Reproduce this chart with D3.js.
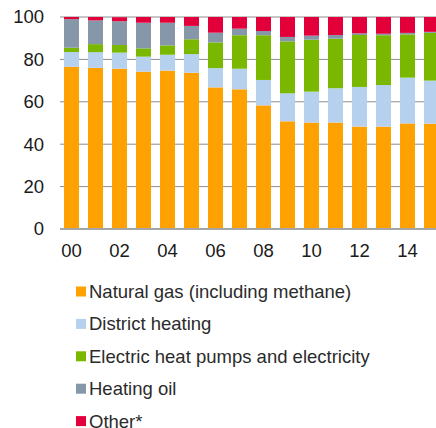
<!DOCTYPE html>
<html>
<head>
<meta charset="utf-8">
<script src="https://cdn.jsdelivr.net/npm/d3@7"></script>
<style>
  body { margin: 0; background: #fff; }
  svg { display: block; font-family: "Liberation Sans", Arial, sans-serif; }
</style>
</head>
<body>
<svg id="chart" width="436" height="428"></svg>
<script>
// Share of heating sources, years 2000-2015
const years = ["00","01","02","03","04","05","06","07","08","09","10","11","12","13","14","15"];
const gas      = [76.5, 76.0, 75.6, 74.2, 74.7, 73.7, 66.8, 65.9, 58.3, 50.8, 50.2, 50.2, 48.3, 48.3, 49.8, 49.7];
const district = [7.0, 7.4, 7.6, 7.1, 7.5, 8.8, 9.1, 9.7, 12.0, 13.2, 14.6, 16.2, 18.7, 19.6, 21.6, 20.3];
const electric = [2.0, 3.8, 3.6, 3.9, 4.4, 7.0, 12.1, 15.8, 21.1, 24.5, 24.5, 23.4, 24.5, 23.5, 20.4, 22.5];
const oil      = [13.5, 11.2, 11.2, 12.1, 10.7, 6.3, 4.6, 3.1, 2.0, 2.1, 1.9, 1.7, 0.8, 0.7, 0.7, 0.5];
const other    = [1.0, 1.6, 1.9, 2.7, 2.7, 4.2, 7.4, 5.5, 6.6, 9.4, 8.8, 8.5, 7.7, 7.9, 7.5, 7.0];
const yTicks = [0, 20, 40, 60, 80, 100];

const series = [
  {name: "Natural gas (including methane)", values: gas, color: "#ffa100"},
  {name: "District heating", values: district, color: "#b5d1ee"},
  {name: "Electric heat pumps and electricity", values: electric, color: "#7ab800"},
  {name: "Heating oil", values: oil, color: "#8597a9"},
  {name: "Other*", values: other, color: "#e3003a"}
];

const svg = d3.select("#chart");

const x = d3.scaleBand()
  .domain(years)
  .range([59.5, 443.5])
  .paddingInner(0.375)
  .paddingOuter(0.1875);

const y = d3.scaleLinear().domain([0, 100]).range([229, 17]);

// gridlines
svg.append("g")
  .selectAll("line")
  .data(yTicks.filter(d => d > 0))
  .enter().append("line")
  .attr("x1", 60).attr("x2", 436)
  .attr("y1", d => y(d)).attr("y2", d => y(d))
  .attr("stroke", "#8c8c8c")
  .attr("stroke-width", 1);

// stacked bars
const rows = years.map((yr, i) => {
  const r = {year: yr};
  series.forEach(s => r[s.name] = s.values[i]);
  return r;
});
const stack = d3.stack().keys(series.map(s => s.name))(rows);

svg.append("g")
  .selectAll("g")
  .data(stack)
  .enter().append("g")
  .attr("fill", (d, i) => series[i].color)
  .selectAll("rect")
  .data(d => d)
  .enter().append("rect")
  .attr("x", d => x(d.data.year))
  .attr("width", x.bandwidth())
  .attr("y", d => y(Math.min(d[1], 100)))
  .attr("height", d => y(d[0]) - y(Math.min(d[1], 100)));

// baseline
svg.append("line")
  .attr("x1", 60).attr("x2", 436)
  .attr("y1", y(0)).attr("y2", y(0))
  .attr("stroke", "#a6a6a6")
  .attr("stroke-width", 2);

// y tick labels
svg.append("g")
  .selectAll("text")
  .data(yTicks)
  .enter().append("text")
  .attr("x", 44)
  .attr("y", d => y(d))
  .attr("dy", "0.35em")
  .attr("text-anchor", "end")
  .attr("font-size", 18.5)
  .attr("fill", "#1a1a1a")
  .text(d => d);

// x tick labels (every other year)
svg.append("g")
  .selectAll("text")
  .data(years.filter((d, i) => i % 2 === 0))
  .enter().append("text")
  .attr("x", d => x(d) + x.bandwidth() / 2)
  .attr("y", 257)
  .attr("text-anchor", "middle")
  .attr("font-size", 18.5)
  .attr("fill", "#1a1a1a")
  .text(d => d);

// legend
const legend = svg.append("g")
  .selectAll("g")
  .data(series)
  .enter().append("g")
  .attr("transform", (d, i) => `translate(76,${291.5 + i * 32.4})`);

legend.append("rect")
  .attr("x", 0).attr("y", -5)
  .attr("width", 10).attr("height", 10)
  .attr("fill", d => d.color);

legend.append("text")
  .attr("x", 13)
  .attr("dy", "0.35em")
  .attr("font-size", 18.5)
  .attr("fill", "#2b2b2b")
  .text(d => d.name);
</script>
</body>
</html>
